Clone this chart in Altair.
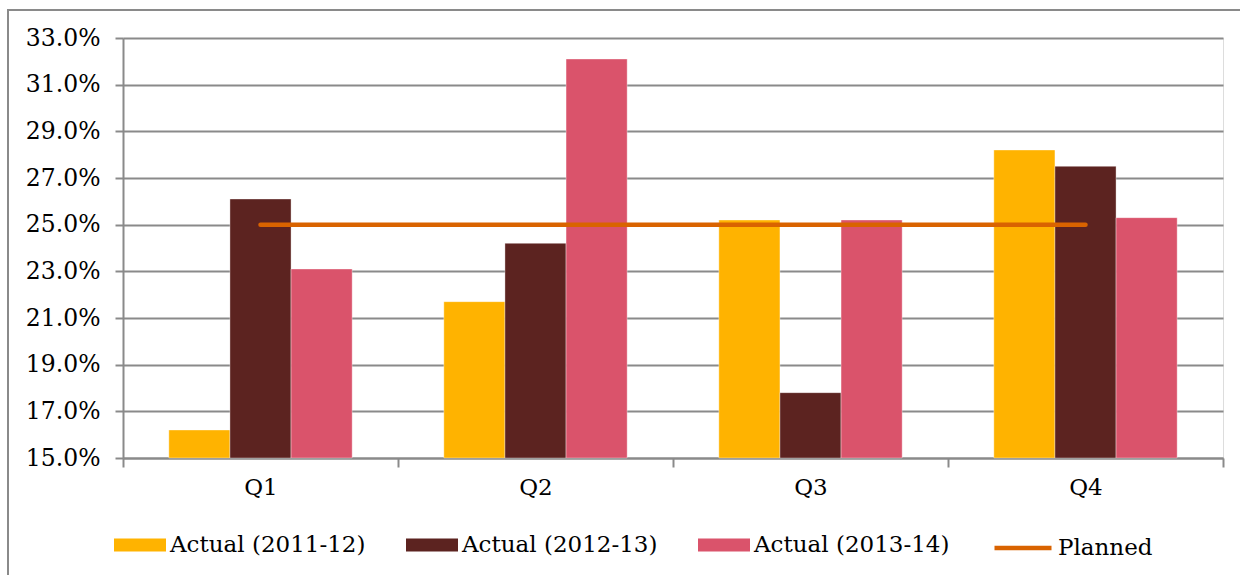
import altair as alt
import pandas as pd

quarters = ["Q1", "Q2", "Q3", "Q4"]
series_names = ["Actual (2011-12)", "Actual (2012-13)", "Actual (2013-14)"]
actual_2011_12 = [16.2, 21.7, 25.2, 28.2]
actual_2012_13 = [26.1, 24.2, 17.8, 27.5]
actual_2013_14 = [23.1, 32.1, 25.2, 25.3]
planned = [25.0, 25.0, 25.0, 25.0]
y_ticks = [15.0, 17.0, 19.0, 21.0, 23.0, 25.0, 27.0, 29.0, 31.0, 33.0]

bar_colors = ["#FFB300", "#5C2320", "#DA536B"]
line_color = "#D96300"
grid_color = "#8A8A8A"
FONT = "DejaVu Serif"

rows = []
for name, vals in zip(series_names, [actual_2011_12, actual_2012_13, actual_2013_14]):
    for q, v in zip(quarters, vals):
        rows.append({"quarter": q, "series": name, "value": v / 100})
bars_df = pd.DataFrame(rows)
plan_df = pd.DataFrame({"quarter": quarters, "series": ["Planned"] * 4,
                        "value": [p / 100 for p in planned]})

W, H = 1100, 420

x_enc = alt.X("quarter:N", sort=quarters,
              scale=alt.Scale(paddingInner=0, paddingOuter=0),
              axis=alt.Axis(title=None, labelFont=FONT, labelFontSize=23,
                            labelColor="#000", labelPadding=9, tickBand="extent",
                            tickSize=9, tickColor=grid_color, tickWidth=2,
                            domainColor=grid_color, domainWidth=2, grid=False,
                            labelAngle=0))
y_scale = alt.Scale(domain=[0.15, 0.33], nice=False, zero=False)

bars = alt.Chart(bars_df).mark_bar(stroke="white", strokeWidth=0.6, strokeOpacity=0.6).encode(
    x=x_enc,
    xOffset=alt.XOffset("series:N", sort=series_names,
                        scale=alt.Scale(paddingInner=0, paddingOuter=0.75)),
    y=alt.Y("value:Q", scale=y_scale,
            axis=alt.Axis(title=None, values=[t / 100 for t in y_ticks], format=".1%",
                          labelFont=FONT, labelFontSize=23.5, labelColor="#000",
                          labelPadding=15, tickSize=8, tickColor=grid_color, tickWidth=2,
                          domainColor=grid_color, domainWidth=2,
                          grid=True, gridColor=grid_color, gridWidth=2)),
    y2=alt.datum(0.15),
    color=alt.Color("series:N", sort=series_names,
                    scale=alt.Scale(domain=series_names, range=bar_colors),
                    legend=alt.Legend(title=None, orient="none", legendX=-9, legendY=481,
                                      direction="horizontal", columns=3, columnPadding=40,
                                      symbolType="M-1,-0.25H1V0.25H-1Z", symbolSize=2704,
                                      symbolStrokeWidth=0, symbolOpacity=1,
                                      labelFont=FONT, labelFontSize=23, labelColor="#000",
                                      labelOffset=4, labelLimit=400)),
)

line = alt.Chart(plan_df).mark_line(strokeWidth=4.5, strokeCap="round").encode(
    x=alt.X("quarter:N", sort=quarters),
    y=alt.Y("value:Q", scale=y_scale),
    stroke=alt.Stroke("series:N",
                      scale=alt.Scale(domain=["Planned"], range=[line_color]),
                      legend=alt.Legend(title=None, orient="none", legendX=869, legendY=479,
                                        symbolType="M-1,0H1", symbolSize=3249,
                                        symbolStrokeWidth=4.5, symbolStrokeColor=line_color,
                                        labelFont=FONT, labelFontSize=23, labelColor="#000",
                                        labelOffset=4)),
)

frame = alt.Chart(pd.DataFrame({"k": [0]})).mark_rect(
    fill=None, stroke=grid_color, strokeWidth=2
).encode(
    x=alt.value(-115), x2=alt.value(1250), y=alt.value(-28), y2=alt.value(700)
)

chart = alt.layer(frame, bars, line).resolve_scale(color="independent").properties(
    width=W, height=H,
    autosize=alt.AutoSizeParams(type="none"),
    padding={"left": 123, "top": 38, "right": 17, "bottom": 117},
).configure_view(stroke=None).configure(background="white")

chart.save("out.html", embed_options={"renderer": "svg", "actions": False})
